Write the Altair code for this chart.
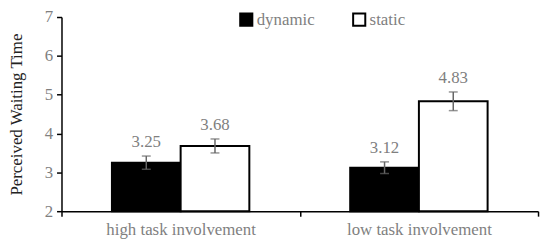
import altair as alt
import pandas as pd

categories = ["high task involvement", "low task involvement"]
series = ["dynamic", "static"]
dynamic_vals = [3.25, 3.12]
static_vals = [3.68, 4.83]
dynamic_err = [0.17, 0.15]
static_err = [0.18, 0.24]
y_ticks = [2, 3, 4, 5, 6, 7]

rows = []
for i, c in enumerate(categories):
    for s, vals, errs in (("dynamic", dynamic_vals, dynamic_err), ("static", static_vals, static_err)):
        rows.append({"cat": c, "series": s, "value": vals[i], "err": errs[i],
                     "lo": vals[i] - errs[i], "hi": vals[i] + errs[i],
                     "label": f"{vals[i]:.2f}"})
df = pd.DataFrame(rows)

FONT = "'Liberation Serif', 'Times New Roman', Times, serif"
GRAY = "#7f7f7f"
FS = 17

x = alt.X("cat:N", scale=alt.Scale(domain=categories, paddingInner=0, paddingOuter=0),
          axis=alt.Axis(title=None, labelAngle=0, labelFontSize=FS, labelColor=GRAY, labelFont=FONT,
                        tickBand="extent", tickColor="black", tickSize=5, tickWidth=1.5,
                        domainColor="black", domainWidth=1.5, labelPadding=6))
xo = alt.XOffset("series:N", scale=alt.Scale(domain=series, paddingOuter=0.734, paddingInner=0))
yscale = alt.Scale(domain=[2, 7], zero=False, nice=False)
yaxis = alt.Axis(title="Perceived Waiting Time", titleFont=FONT, titleFontSize=FS,
                 titleFontWeight="normal", titleColor="#222222", titlePadding=19,
                 labelFont=FONT, labelFontSize=FS, labelColor=GRAY, values=y_ticks,
                 labelOverlap=False, tickCount=6,
                 tickColor="black", tickSize=5, tickWidth=1.5, domainColor="black",
                 domainWidth=1.5, grid=False, labelPadding=4)

base = alt.Chart(df)

bars = base.mark_bar(strokeWidth=2, stroke="black").encode(
    x=x, xOffset=xo,
    y=alt.Y("value:Q", scale=yscale, axis=yaxis),
    y2=alt.datum(2),
    fill=alt.Fill("series:N", scale=alt.Scale(domain=series, range=["black", "white"]),
                  legend=alt.Legend(title=None, orient="none", legendX=178, legendY=-6,
                                    direction="horizontal", symbolType="square", symbolSize=150,
                                    symbolStrokeColor="black", symbolStrokeWidth=2,
                                    labelFont=FONT, labelFontSize=FS, labelColor=GRAY,
                                    columnPadding=34, labelOffset=2, symbolOpacity=1)),
)

rules = base.mark_rule(color="#666666", strokeWidth=1.5).encode(
    x=x, xOffset=xo, y=alt.Y("lo:Q", scale=yscale, axis=yaxis), y2="hi:Q")
caps_hi = base.mark_tick(color="#666666", thickness=1.5, size=9).encode(
    x=x, xOffset=xo, y=alt.Y("hi:Q", scale=yscale, axis=yaxis))
caps_lo = base.mark_tick(color="#666666", thickness=1.5, size=9).encode(
    x=x, xOffset=xo, y=alt.Y("lo:Q", scale=yscale, axis=yaxis))
labels = base.mark_text(font=FONT, fontSize=FS, color=GRAY, baseline="bottom", dy=-5).encode(
    x=x, xOffset=xo, y=alt.Y("hi:Q", scale=yscale, axis=yaxis), text="label:N")

chart = alt.layer(bars, rules, caps_hi, caps_lo, labels).properties(
    width=481, height=196,
    autosize=alt.AutoSizeParams(type="none"),
    padding={"left": 54, "top": 8, "right": 4, "bottom": 31},
    background="white",
).configure_view(stroke=None)

chart.save("out.html", embed_options={"renderer": "svg", "actions": False})
